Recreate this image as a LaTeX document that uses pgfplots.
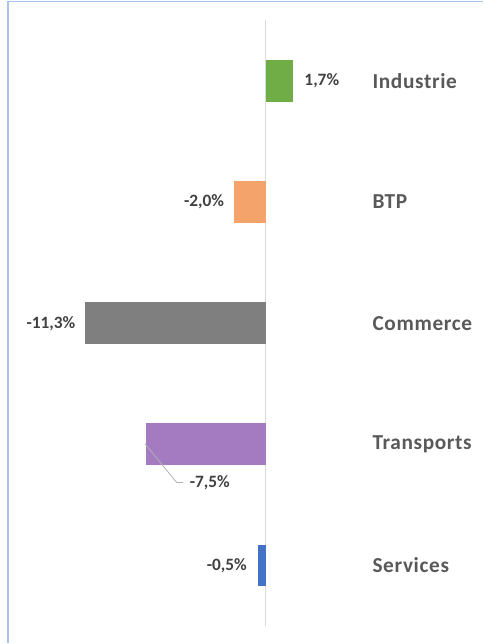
\documentclass[border=0pt]{standalone}
\usepackage{fontspec}
\setmainfont{Carlito}
\newfontfamily\catfont[LetterSpace=3]{Carlito}
\usepackage{pgfplots}
\pgfplotsset{compat=1.18}
\definecolor{cInd}{HTML}{70AD47}
\definecolor{cBtp}{HTML}{F4A46B}
\definecolor{cCom}{HTML}{7F7F7F}
\definecolor{cTra}{HTML}{A47BC0}
\definecolor{cSer}{HTML}{4472C4}
\definecolor{catTxt}{HTML}{595959}
\definecolor{valTxt}{HTML}{404040}
\definecolor{frame}{HTML}{A9C4EC}
\definecolor{zeroLn}{HTML}{D9D9D9}
\begin{document}
\begin{tikzpicture}
\begin{axis}[
    width=362.25pt, height=483pt,
    scale only axis,
    hide axis,
    clip=false,
    xmin=-16.6, xmax=13.55,
    ymin=-0.643, ymax=4.668,
    xbar, bar width=31.5pt, bar shift=0pt,
    point meta=explicit symbolic,
    nodes near coords,
    every node near coord/.append style={font=\bfseries\fontsize{13}{15}\selectfont, text=valTxt, inner sep=0pt},
]
% keep the full picture area
\path (rel axis cs:0,0) rectangle (rel axis cs:1,1);
% frame
\draw[frame, line width=0.9pt] (rel axis cs:0.0166,0) -- (rel axis cs:0.0166,0.9977) -- (rel axis cs:1,0.9977);
% zero line
\draw[zeroLn, line width=0.9pt] (axis cs:0,-0.503) -- (axis cs:0,4.503);

\addplot[fill=cInd, draw=none, nodes near coords style={anchor=west, xshift=8.5pt}] coordinates {(1.7,4) [1,7\%]};
\addplot[fill=cBtp, draw=none, nodes near coords style={anchor=east, xshift=-7pt}] coordinates {(-2.0,3) [-2,0\%]};
\addplot[fill=cCom, draw=none, nodes near coords style={anchor=east, xshift=-7pt}] coordinates {(-11.3,2) [-11,3\%]};
\addplot[fill=cTra, draw=none, nodes near coords style={anchor=west, xshift=33pt, yshift=-28.5pt}] coordinates {(-7.5,1) [-7,5\%]};
\addplot[fill=cSer, draw=none, nodes near coords style={anchor=east, xshift=-8pt}] coordinates {(-0.5,0) [-0,5\%]};

% leader line
\draw[gray!60, line width=0.6pt] (axis cs:-7.55,1.006) -- (axis cs:-5.56,0.685) -- (axis cs:-5.18,0.685);

% category labels
\addplot[draw=none, fill=none, bar width=0pt,
    nodes near coords style={anchor=west, font=\catfont\bfseries\fontsize{16}{18}\selectfont, text=catTxt}]
  coordinates {(6.66,4) [Industrie] (6.66,3) [BTP] (6.66,2) [Commerce] (6.66,1) [Transports] (6.66,0) [Services]};
\end{axis}
\end{tikzpicture}
\end{document}
